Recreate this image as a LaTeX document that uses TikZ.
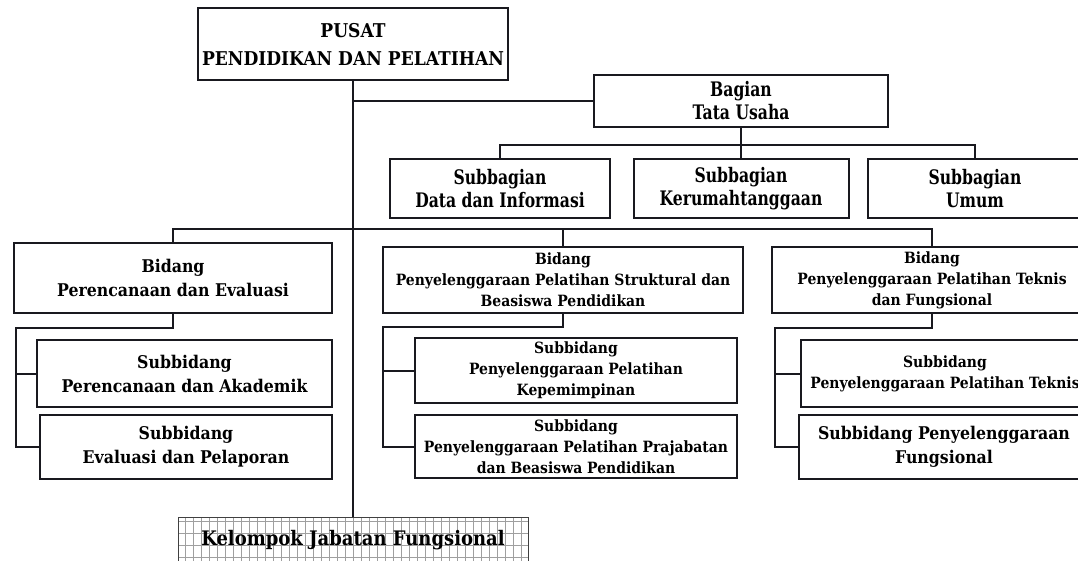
\documentclass[tikz,border=0pt]{standalone}
\usepackage{fontspec}
\usepackage{tikz}
\newfontfamily\orgfont[FakeStretch=0.9]{DejaVu Serif}
\newfontfamily\orgcond[FakeStretch=0.78]{DejaVu Serif}
\definecolor{linecol}{rgb}{0.1, 0.1, 0.12}
\tikzstyle{unit}=[draw=linecol, line width=2pt, fill=white, align=center, inner sep=0pt]
\tikzstyle{headunit}=[unit, font=\orgfont\bfseries\fontsize{19}{28}\selectfont]
\tikzstyle{tuunit}=[unit, font=\orgcond\bfseries\fontsize{20}{23}\selectfont]
\tikzstyle{bigunit}=[unit, font=\orgfont\bfseries\fontsize{17.5}{24}\selectfont]
\tikzstyle{smallunit}=[unit, font=\orgfont\bfseries\fontsize{15.5}{21}\selectfont]
\tikzstyle{kelunit}=[draw=gray!50!black, line width=1pt, fill=white, inner sep=0pt,
  font=\orgfont\bfseries\fontsize{20}{24}\selectfont,
  path picture={\draw[gray!75, line width=0.7pt] (path picture bounding box.south west) grid[xstep=8pt,ystep=12pt] (path picture bounding box.north east);}]
\tikzstyle{conn}=[draw=linecol, line width=2pt]

\begin{document}
\begin{tikzpicture}[x=1pt, y=-1pt]
\useasboundingbox[fill=white] (0,0) rectangle (1078,561);
\node[headunit, minimum width=310, minimum height=72] (pusat) at (353,44) {PUSAT\\PENDIDIKAN DAN PELATIHAN};
\node[tuunit, minimum width=294, minimum height=52] (tu) at (741,101) {Bagian\\Tata Usaha};
\node[tuunit, minimum width=220, minimum height=59] (sb1) at (500,188.5) {Subbagian\\Data dan Informasi};
\node[tuunit, minimum width=215, minimum height=59] (sb2) at (741,188.5) {Subbagian\\Kerumahtanggaan};
\node[tuunit, minimum width=214, minimum height=59] (sb3) at (975,188.5) {Subbagian\\Umum};
\node[bigunit, minimum width=318, minimum height=70] (bd1) at (173,278) {Bidang\\Perencanaan dan Evaluasi};
\node[smallunit, minimum width=360, minimum height=66] (bd2) at (563,280) {Bidang\\Penyelenggaraan Pelatihan Struktural dan\\Beasiswa Pendidikan};
\node[smallunit, minimum width=320, minimum height=66] (bd3) at (932,280) {Bidang\\Penyelenggaraan Pelatihan Teknis\\dan Fungsional};
\node[bigunit, minimum width=295, minimum height=67] (sbd1a) at (184.5,373.5) {Subbidang\\Perencanaan dan Akademik};
\node[bigunit, minimum width=292, minimum height=64] (sbd1b) at (186,447) {Subbidang\\Evaluasi dan Pelaporan};
\node[smallunit, minimum width=322, minimum height=65] (sbd2a) at (576,370.5) {Subbidang\\Penyelenggaraan Pelatihan\\Kepemimpinan};
\node[smallunit, minimum width=322, minimum height=63] (sbd2b) at (576,446.5) {Subbidang\\Penyelenggaraan Pelatihan Prajabatan\\dan Beasiswa Pendidikan};
\node[smallunit, minimum width=288, minimum height=67] (sbd3a) at (945,373.5) {Subbidang\\Penyelenggaraan Pelatihan Teknis};
\node[bigunit, minimum width=290, minimum height=64] (sbd3b) at (944,447) {Subbidang Penyelenggaraan\\Fungsional};
\node[kelunit, minimum width=350, minimum height=46] (kel) at (353,540) {Kelompok Jabatan Fungsional};
\coordinate (tubus) at (741,145);
\coordinate (bus) at (353,229);
\coordinate (sp1) at (16,328);
\coordinate (sp2) at (383,327);
\coordinate (sp3) at (775,328);
% pusat
\draw[conn] (pusat.south) -- (pusat.south |- kel.north);
\draw[conn] (pusat.south |- tu.west) -- (tu.west);
% tata usaha
\draw[conn] (tu.south) -- (sb2.north);
\draw[conn] (sb1.north) |- (tubus) -| (sb3.north);
% bidang
\draw[conn] (bd1.north) |- (bus) -| (bd3.north);
\draw[conn] (bd2.north) -- (bd2.north |- bus);
\draw[conn] (bd1.south) |- (sp1) |- (sbd1b.west);
\draw[conn] (sbd1a.west) -- (sbd1a.west -| sp1);
\draw[conn] (bd2.south) |- (sp2) |- (sbd2b.west);
\draw[conn] (sbd2a.west) -- (sbd2a.west -| sp2);
\draw[conn] (bd3.south) |- (sp3) |- (sbd3b.west);
\draw[conn] (sbd3a.west) -- (sbd3a.west -| sp3);
\end{tikzpicture}
\end{document}
